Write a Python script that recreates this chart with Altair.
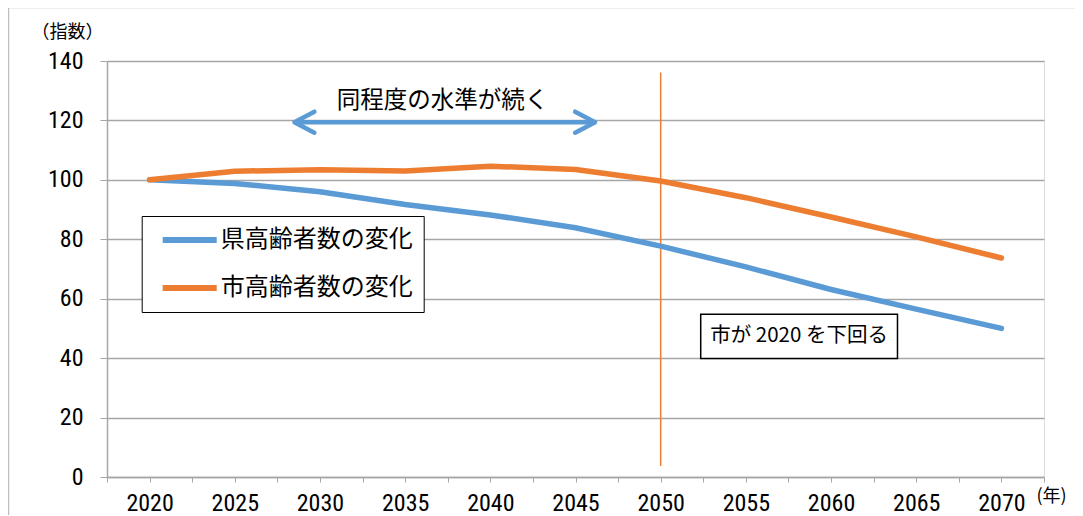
import altair as alt
import pandas as pd

# ---- data ----
years = [2020, 2025, 2030, 2035, 2040, 2045, 2050, 2055, 2060, 2065, 2070]
pref_index = [100, 98.8, 96.0, 91.7, 88.2, 83.9, 77.7, 70.7, 63.1, 56.5, 50.0]
city_index = [100, 102.9, 103.4, 103.0, 104.6, 103.5, 99.6, 94.0, 87.5, 80.8, 73.7]
series_names = ["県高齢者数の変化", "市高齢者数の変化"]
series_colors = ["#5b9bd5", "#ed7d31"]
x_ticks = [2017.5 + 2.5 * i for i in range(23)]
y_ticks = [0, 20, 40, 60, 80, 100, 120, 140]

# annotations
arrow_text = "同程度の水準が続く"
arrow_start, arrow_end, arrow_y = 2028.5, 2046.15, 119.4
arrow_text_x, arrow_text_y = 2037.2, 126.7
vline_x, vline_y1, vline_y2 = 2050, 3.7, 136.1
box_text = "市が 2020 を下回る"
box_x1, box_x2, box_y1, box_y2 = 2052.35, 2063.9, 39.9, 54.8

JP = "Noto Sans CJK JP"
NUM = "Liberation Sans Narrow, Arial Narrow, Roboto Condensed, DejaVu Sans Condensed, sans-serif"
GRID = "#a6a6a6"

rows = []
for name, vals in zip(series_names, [pref_index, city_index]):
    for y, v in zip(years, vals):
        rows.append({"year": y, "value": v, "series": name})
df = pd.DataFrame(rows)

x_scale = alt.Scale(domain=[2017.5, 2072.5], nice=False, zero=False)
y_scale = alt.Scale(domain=[0, 140], nice=False)

x_axis = alt.Axis(
    values=x_ticks, format="d",
    labelExpr="datum.value % 5 == 0 ? datum.label : ''",
    labelOverlap=False, labelFlush=False, grid=False,
    tickSize=5, tickColor=GRID, domainColor=GRID, domainWidth=1.5,
    labelFont=NUM, labelFontSize=24, labelColor="#000000", labelPadding=9,
    title="(年)", titleAngle=0, titleX=944, titleY=19,
    titleAlign="center", titleBaseline="middle",
    titleFont=JP, titleFontSize=18, titleFontWeight="normal", titleColor="#000000",
)
y_axis = alt.Axis(
    values=y_ticks, grid=True, gridColor=GRID, gridWidth=1.5,
    tickSize=7, tickColor=GRID, domainColor=GRID, domainWidth=1.5,
    labelFont=NUM, labelFontSize=24, labelColor="#000000", labelPadding=17,
    title="（指数）", titleAngle=0, titleX=-40, titleY=-29,
    titleAlign="center", titleBaseline="middle",
    titleFont=JP, titleFontSize=18, titleFontWeight="normal", titleColor="#000000",
)

frame = alt.Chart(pd.DataFrame({"k": [0]})).mark_rect(
    fillOpacity=0, stroke="#bfbfbf", strokeWidth=1.5
).encode(
    x=alt.value(-98.5), x2=alt.value(1200), y=alt.value(-53.5), y2=alt.value(1000)
)

vline = alt.Chart(pd.DataFrame({"x": [vline_x], "y": [vline_y1], "y2": [vline_y2]})).mark_rule(
    color="#ed7d31", strokeWidth=1.5
).encode(
    x=alt.X("x:Q", scale=x_scale, axis=x_axis),
    y=alt.Y("y:Q", scale=y_scale, axis=y_axis),
    y2="y2:Q",
)

lines = alt.Chart(df).mark_line(
    strokeWidth=5.5, strokeCap="round", strokeJoin="round"
).encode(
    x=alt.X("year:Q", scale=x_scale, axis=x_axis),
    y=alt.Y("value:Q", scale=y_scale, axis=y_axis),
    color=alt.Color(
        "series:N",
        scale=alt.Scale(domain=series_names, range=series_colors),
        sort=series_names,
        legend=alt.Legend(
            title=None, orient="none", legendX=34.7, legendY=155,
            symbolType="stroke", symbolSize=2916, symbolStrokeWidth=6,
            clipHeight=26, rowPadding=22, padding=11,
            symbolOffset=7, labelOffset=1,
            labelFont=JP, labelFontSize=24, labelColor="#000000", labelLimit=500,
            strokeColor="#000000", fillColor="#ffffff",
        ),
    ),
)

arrow_df = pd.DataFrame({"x": [arrow_start], "x2": [arrow_end], "y": [arrow_y]})
arrow_line = alt.Chart(arrow_df).mark_rule(color="#5b9bd5", strokeWidth=4.5).encode(
    x=alt.X("x:Q", scale=x_scale), x2="x2:Q", y=alt.Y("y:Q", scale=y_scale)
)
head_left = alt.Chart(pd.DataFrame({"x": [arrow_start], "y": [arrow_y]})).mark_point(
    shape="M1.9,-1L0,0L1.9,1", filled=False, size=441, strokeWidth=4.5,
    color="#5b9bd5", opacity=1, strokeCap="round", strokeJoin="round"
).encode(x=alt.X("x:Q", scale=x_scale), y=alt.Y("y:Q", scale=y_scale))
head_right = alt.Chart(pd.DataFrame({"x": [arrow_end], "y": [arrow_y]})).mark_point(
    shape="M-1.9,-1L0,0L-1.9,1", filled=False, size=441, strokeWidth=4.5,
    color="#5b9bd5", opacity=1, strokeCap="round", strokeJoin="round"
).encode(x=alt.X("x:Q", scale=x_scale), y=alt.Y("y:Q", scale=y_scale))
arrow_label = alt.Chart(pd.DataFrame({"x": [arrow_text_x], "y": [arrow_text_y], "t": [arrow_text]})).mark_text(
    font=JP, fontSize=23.5, color="#000000", align="center", baseline="middle"
).encode(x=alt.X("x:Q", scale=x_scale), y=alt.Y("y:Q", scale=y_scale), text="t:N")

box = alt.Chart(pd.DataFrame({"x": [box_x1], "x2": [box_x2], "y": [box_y1], "y2": [box_y2]})).mark_rect(
    fill="#ffffff", stroke="#000000", strokeWidth=1.5
).encode(x=alt.X("x:Q", scale=x_scale), x2="x2:Q", y=alt.Y("y:Q", scale=y_scale), y2="y2:Q")
box_label = alt.Chart(pd.DataFrame({
    "x": [(box_x1 + box_x2) / 2], "y": [(box_y1 + box_y2) / 2], "t": [box_text]
})).mark_text(
    font=JP, fontSize=20.5, color="#000000", align="center", baseline="middle"
).encode(x=alt.X("x:Q", scale=x_scale), y=alt.Y("y:Q", scale=y_scale), text="t:N")

chart = alt.layer(
    frame, vline, lines, arrow_line, head_left, head_right, arrow_label, box, box_label
).properties(
    width=937, height=416,
    padding={"left": 99, "top": 53, "right": 31, "bottom": 38},
    autosize=alt.AutoSizeParams(type="none"),
).configure_view(
    stroke=GRID, strokeWidth=1.5
).configure_legend(
    strokeWidth=1.5
).configure(background="#ffffff")

chart.save("out.html", embed_options={"renderer": "svg", "actions": False})
